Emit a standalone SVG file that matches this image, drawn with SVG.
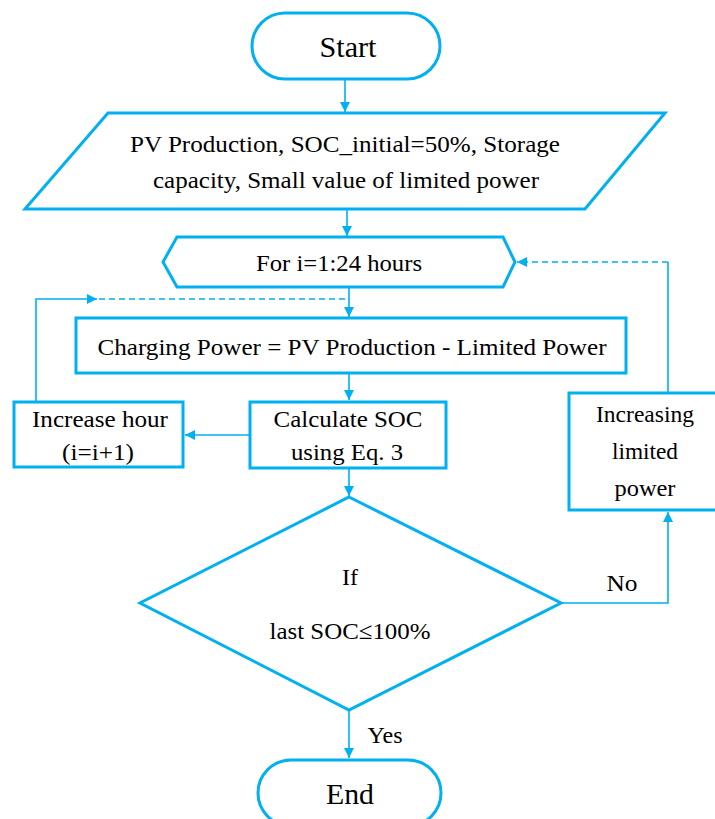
<svg xmlns="http://www.w3.org/2000/svg" width="715" height="819" viewBox="0 0 715 819">
<style>
.n{fill:#fff;stroke:#00B0F0;stroke-width:3}
.c{fill:none;stroke:#00B0F0;stroke-width:1.6}
.d{stroke-dasharray:6 4}
text{font-family:"Liberation Serif",serif;fill:#000;font-size:24px;text-anchor:middle}
.big{font-size:29px}
</style>
<defs>
<marker id="ah" viewBox="0 0 10 10" refX="10" refY="5" markerWidth="10" markerHeight="10" markerUnits="userSpaceOnUse" orient="auto">
<path d="M0,0 L10,5 L0,10 z" fill="#00B0F0"/>
</marker>
</defs>
<rect width="715" height="819" fill="#fff"/>
<g id="connectors">
<path class="c" d="M345,79 V112" marker-end="url(#ah)"/>
<path class="c" d="M347,209 V236" marker-end="url(#ah)"/>
<path class="c" d="M349,287 V317" marker-end="url(#ah)"/>
<path class="c" d="M349,373 V400" marker-end="url(#ah)"/>
<path class="c" d="M250,435 H185" marker-end="url(#ah)"/>
<path class="c" d="M349,468 V496" marker-end="url(#ah)"/>
<path class="c" d="M36,402 V299 H97" marker-end="url(#ah)"/>
<path class="c d" d="M99,299 H349"/>
<path class="c" d="M561,603 H668 V512" marker-end="url(#ah)"/>
<path class="c" d="M668,393 V262"/>
<path class="c d" d="M668,262 H517" marker-end="url(#ah)"/>
<path class="c" d="M349,710 V758" marker-end="url(#ah)"/>
<text x="622" y="591" textLength="31" lengthAdjust="spacingAndGlyphs">No</text>
<text x="385" y="743" textLength="35" lengthAdjust="spacingAndGlyphs">Yes</text>
</g>
<g id="start">
<rect class="n" x="252" y="13" width="188" height="66" rx="33"/>
<text class="big" x="348" y="57" textLength="57" lengthAdjust="spacingAndGlyphs">Start</text>
</g>
<g id="input">
<path class="n" d="M108,113 H665 L585,209 H25 Z"/>
<text x="345" y="152" textLength="430" lengthAdjust="spacingAndGlyphs">PV Production, SOC_initial=50%, Storage</text>
<text x="346" y="188" textLength="386" lengthAdjust="spacingAndGlyphs">capacity, Small value of limited power</text>
</g>
<g id="loop">
<path class="n" d="M163,262 L177,237 H503 L515,262 L503,287 H177 Z"/>
<text x="339" y="271" textLength="166" lengthAdjust="spacingAndGlyphs">For i=1:24 hours</text>
</g>
<g id="charging">
<rect class="n" x="76" y="318" width="550" height="55"/>
<text x="352" y="355" textLength="509" lengthAdjust="spacingAndGlyphs">Charging Power = PV Production - Limited Power</text>
</g>
<g id="calc">
<rect class="n" x="250" y="402" width="196" height="66"/>
<text x="348" y="427" textLength="149" lengthAdjust="spacingAndGlyphs">Calculate SOC</text>
<text x="347" y="460" textLength="112" lengthAdjust="spacingAndGlyphs">using Eq. 3</text>
</g>
<g id="increase">
<rect class="n" x="14" y="402" width="169" height="65"/>
<text x="100" y="427" textLength="136" lengthAdjust="spacingAndGlyphs">Increase hour</text>
<text x="98" y="460" textLength="72" lengthAdjust="spacingAndGlyphs">(i=i+1)</text>
</g>
<g id="limited">
<rect class="n" x="569" y="393" width="148" height="117"/>
<text x="645" y="422" textLength="98" lengthAdjust="spacingAndGlyphs">Increasing</text>
<text x="645" y="459" textLength="66" lengthAdjust="spacingAndGlyphs">limited</text>
<text x="645" y="496" textLength="61" lengthAdjust="spacingAndGlyphs">power</text>
</g>
<g id="decision">
<path class="n" d="M349,497 L561,603 L349,710 L140,603 Z"/>
<text x="350" y="585" textLength="16" lengthAdjust="spacingAndGlyphs">If</text>
<text x="350" y="639" textLength="161" lengthAdjust="spacingAndGlyphs">last SOC≤100%</text>
</g>
<g id="end">
<rect class="n" x="258" y="760" width="183" height="66" rx="33"/>
<text class="big" x="350" y="804" textLength="48" lengthAdjust="spacingAndGlyphs">End</text>
</g>
</svg>
